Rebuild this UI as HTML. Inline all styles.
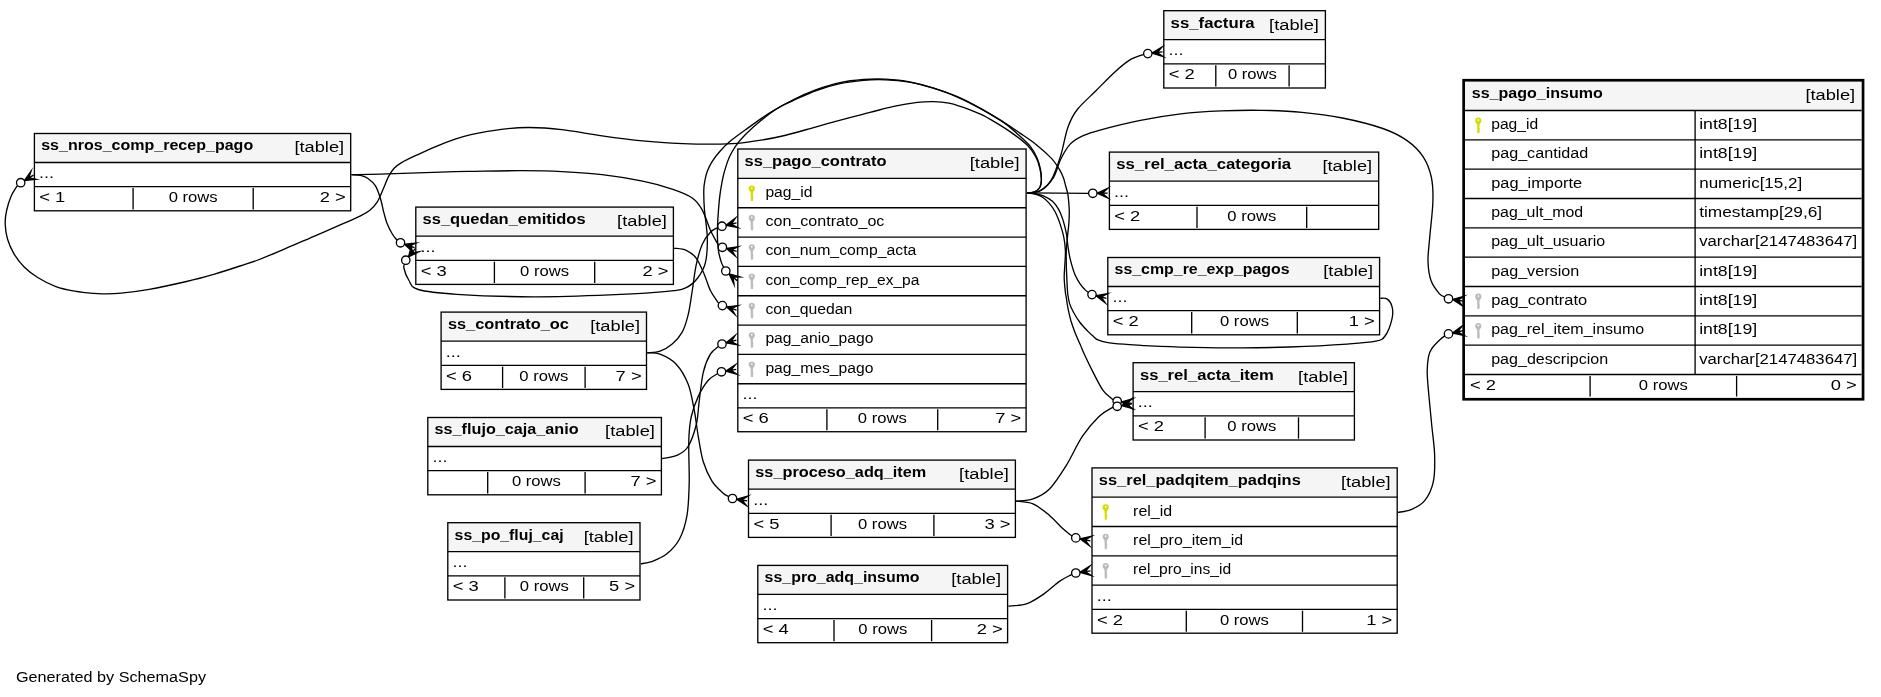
<!DOCTYPE html>
<html><head><meta charset="utf-8"><title>ss_pago_insumo</title>
<style>
html,body{margin:0;padding:0;background:#fff;}
body{width:1881px;height:697px;overflow:hidden;font-family:"Liberation Sans",sans-serif;}
svg{display:block;will-change:transform;}
text{font-family:"Liberation Sans",sans-serif;font-size:15.4px;fill:#000;stroke:none;}
text.b{font-weight:bold;}
</style></head><body>
<svg width="1881" height="697" viewBox="0 0 1881 697">
<g fill="none" stroke="#000" stroke-width="1.33">
<path d="M17.2,185.9 C16.2,187.6 13.0,191.9 11.2,196.1 C9.4,200.3 7.5,206.3 6.5,211.0 C5.5,215.7 5.0,219.4 5.2,224.1 C5.4,228.8 6.0,234.0 7.5,239.0 C9.0,244.0 11.2,249.2 14.0,253.9 C16.8,258.6 20.3,263.1 24.2,267.0 C28.1,270.9 32.0,273.9 37.3,277.2 C42.6,280.5 49.7,284.3 55.9,286.6 C62.1,288.9 68.4,290.1 74.6,291.2 C80.8,292.3 88.2,293.0 93.2,293.4 C98.2,293.8 99.7,293.9 104.4,293.8 C109.1,293.8 113.7,293.9 121.2,293.1 C128.7,292.4 138.3,291.2 149.2,289.3 C160.1,287.4 175.6,284.0 186.5,281.5 C197.4,279.0 205.6,276.7 214.5,274.1 C223.4,271.5 232.8,268.4 240.0,266.0 C247.2,263.6 250.3,262.9 258.0,260.0 C265.6,257.1 276.6,252.3 285.9,248.4 C295.2,244.5 304.6,240.3 313.9,236.3 C323.2,232.3 334.1,227.6 341.9,224.2 C349.7,220.8 355.8,218.1 360.5,215.8 C365.2,213.5 367.1,212.5 369.9,210.2 C372.7,207.9 375.1,205.2 377.3,201.8 C379.5,198.4 381.0,193.9 382.9,189.7 C384.8,185.5 386.6,180.2 388.5,176.6 C390.4,173.0 391.9,170.5 394.1,168.2 C396.3,165.9 397.9,164.8 401.6,162.6 C405.3,160.4 410.9,157.8 416.5,155.2 C422.1,152.6 428.9,149.4 435.1,146.8 C441.3,144.2 447.8,141.7 453.8,139.7 C459.8,137.7 463.0,136.4 470.9,134.7 C478.8,133.0 491.4,130.5 501.2,129.3 C511.0,128.1 519.4,127.4 529.5,127.5 C539.6,127.6 549.7,128.3 561.8,129.7 C573.9,131.1 588.7,134.0 602.2,135.8 C615.7,137.7 629.1,139.5 642.6,140.8 C656.1,142.1 671.1,143.0 683.0,143.6 C694.9,144.2 704.6,144.2 713.7,144.2 C722.8,144.2 729.5,144.1 737.4,143.4 C745.3,142.7 753.1,141.5 761.0,140.2 C768.9,138.9 775.5,137.7 784.7,135.5 C793.9,133.3 805.8,129.7 816.3,126.8 C826.8,123.9 838.9,120.5 847.9,118.1 C856.9,115.7 862.4,114.4 870.0,112.4 C877.6,110.5 885.8,108.1 893.7,106.4 C901.6,104.7 910.8,103.2 917.4,102.4 C924.0,101.6 927.9,101.5 933.1,101.6 C938.4,101.7 943.6,102.0 948.9,103.1 C954.2,104.1 959.4,106.1 964.7,107.9 C970.0,109.8 975.2,111.7 980.5,114.2 C985.8,116.7 991.0,119.8 996.3,122.9 C1001.6,126.1 1006.8,129.3 1012.1,133.1 C1017.4,136.9 1024.0,141.9 1027.9,145.8 C1031.8,149.8 1033.7,153.1 1035.7,156.8 C1037.7,160.5 1038.8,164.0 1039.7,167.9 C1040.7,171.8 1041.4,176.7 1041.4,180.0 C1041.4,183.3 1041.0,185.5 1039.8,187.5 C1038.6,189.5 1036.1,191.1 1034.0,192.0 C1031.9,192.9 1028.2,192.8 1027.0,192.9"/>
<path d="M351.4,174.7 C352.9,174.8 357.7,174.7 360.5,175.3 C363.3,175.9 365.5,176.7 368.0,178.5 C370.5,180.3 373.4,182.5 375.5,185.9 C377.6,189.3 379.2,194.6 380.6,199.0 C382.0,203.4 382.6,208.1 383.7,212.1 C384.8,216.1 385.6,219.6 387.0,223.2 C388.4,226.8 390.5,230.9 392.0,233.5 C393.5,236.1 395.1,237.9 396.0,239.0 C396.9,240.1 397.1,240.0 397.3,240.2"/>
<path d="M351.4,174.7 C356.2,174.6 365.1,174.6 380.0,174.2 C394.9,173.8 425.6,172.6 440.6,172.1 C455.6,171.6 456.5,171.6 470.0,171.4 C483.5,171.2 506.1,170.6 521.4,170.7 C536.7,170.8 548.3,171.0 561.8,171.7 C575.3,172.4 588.7,173.1 602.2,174.7 C615.7,176.3 630.8,178.8 642.6,181.2 C654.4,183.6 664.6,186.5 672.9,189.3 C681.2,192.1 687.4,194.5 692.3,198.0 C697.2,201.5 699.3,204.7 702.3,210.1 C705.3,215.5 707.9,224.7 710.4,230.2 C712.9,235.7 716.0,240.8 717.4,243.3 C718.8,245.9 718.4,245.1 718.6,245.5"/>
<path d="M404.8,264.0 C404.6,264.7 403.2,265.3 403.9,268.0 C404.5,270.7 406.3,276.4 408.7,280.0 C411.1,283.6 410.3,287.1 418.3,289.5 C426.3,291.9 437.5,293.1 456.6,294.3 C475.7,295.5 507.6,296.7 533.1,296.8 C558.6,296.9 587.4,295.8 609.7,294.9 C632.0,294.0 654.4,292.6 667.1,291.4 C679.9,290.2 681.1,289.8 686.2,287.6 C691.3,285.4 694.5,282.1 697.7,278.0 C700.9,273.9 703.8,269.4 705.4,262.7 C707.0,256.0 707.5,246.7 707.3,237.8 C707.1,228.9 705.0,217.1 704.4,209.1 C703.8,201.1 703.7,194.8 703.8,190.0 C703.9,185.2 704.4,183.2 705.0,180.0 C705.6,176.8 706.2,174.1 707.4,171.0 C708.6,167.9 710.0,164.9 712.1,161.6 C714.2,158.3 717.1,154.6 720.0,151.3 C722.9,148.0 725.3,145.4 729.5,141.8 C733.7,138.2 738.6,134.7 745.2,130.0 C751.8,125.3 761.0,118.4 768.9,113.4 C776.8,108.4 784.7,104.0 792.6,100.0 C800.5,96.0 808.4,92.6 816.3,89.7 C824.2,86.8 832.1,84.3 840.0,82.6 C847.9,80.9 856.0,80.1 863.6,79.5 C871.2,78.9 878.1,78.8 885.8,79.2 C893.4,79.6 901.6,80.3 909.5,81.8 C917.4,83.3 925.2,85.7 933.1,88.2 C941.0,90.7 948.9,93.4 956.8,96.8 C964.7,100.2 972.6,104.3 980.5,108.7 C988.4,113.1 997.6,118.3 1004.2,122.9 C1010.8,127.5 1015.5,132.2 1020.0,136.3 C1024.5,140.4 1028.1,143.6 1031.0,147.3 C1033.9,151.0 1035.7,154.7 1037.3,158.4 C1038.9,162.1 1039.8,165.8 1040.5,169.4 C1041.2,173.0 1041.5,177.0 1041.4,180.0 C1041.3,183.0 1041.0,185.5 1039.8,187.5 C1038.6,189.5 1036.1,191.1 1034.0,192.0 C1031.9,192.9 1028.2,192.8 1027.0,192.9"/>
<path d="M674.1,248.1 C676.1,248.5 682.5,248.6 686.2,250.3 C689.9,252.0 693.3,254.3 696.3,258.3 C699.3,262.3 701.9,269.0 704.3,274.4 C706.6,279.8 708.2,286.0 710.4,290.5 C712.6,295.0 716.0,299.5 717.4,301.6 C718.8,303.7 718.7,303.0 719.0,303.3"/>
<path d="M1380.3,298.2 C1381.5,298.4 1385.3,297.7 1387.3,299.1 C1389.3,300.5 1391.3,303.6 1392.1,306.8 C1392.9,310.0 1393.2,313.5 1392.1,318.3 C1391.0,323.1 1388.1,331.7 1385.4,335.5 C1382.7,339.3 1382.2,339.8 1375.8,341.2 C1369.4,342.6 1361.4,343.1 1347.1,344.1 C1332.8,345.1 1307.2,346.4 1289.7,347.0 C1272.2,347.6 1257.8,347.8 1241.8,347.9 C1225.8,348.0 1208.5,347.7 1194.0,347.4 C1179.5,347.1 1163.8,346.5 1155.0,346.2 C1146.2,345.9 1146.3,345.6 1141.1,345.3 C1135.9,345.0 1129.7,344.7 1123.9,344.2 C1118.2,343.7 1110.9,343.0 1106.6,342.3 C1102.3,341.6 1100.2,340.8 1098.0,339.9 C1095.8,339.0 1095.4,338.2 1093.7,336.7 C1092.0,335.2 1090.0,333.5 1087.7,331.1 C1085.4,328.7 1082.4,325.6 1080.0,322.5 C1077.6,319.4 1075.2,315.3 1073.5,312.2 C1071.8,309.1 1070.5,306.5 1069.6,303.6 C1068.7,300.7 1068.3,297.6 1067.9,295.0 C1067.5,292.4 1067.5,290.9 1067.3,288.0 C1067.1,285.1 1067.0,281.9 1066.8,277.9 C1066.6,273.9 1066.4,268.7 1066.3,264.1 C1066.2,259.5 1066.1,255.0 1066.3,250.4 C1066.5,245.8 1067.1,241.2 1067.5,236.6 C1067.9,232.0 1068.6,227.4 1068.9,222.8 C1069.2,218.2 1069.4,213.7 1069.2,209.1 C1069.0,204.5 1068.6,199.3 1068.0,195.3 C1067.4,191.3 1066.2,187.9 1065.4,185.0 C1064.7,182.1 1064.5,180.6 1063.5,178.0 C1062.5,175.4 1061.4,172.7 1059.4,169.4 C1057.4,166.1 1055.5,162.6 1051.5,158.4 C1047.5,154.2 1041.0,148.4 1035.7,144.2 C1030.5,140.0 1025.2,136.7 1020.0,133.1 C1014.8,129.5 1010.8,126.6 1004.2,122.5 C997.6,118.4 988.4,112.6 980.5,108.3 C972.6,104.0 964.7,99.8 956.8,96.4 C948.9,93.0 941.0,90.2 933.1,87.8 C925.2,85.4 917.4,83.5 909.5,82.2 C901.6,80.9 893.4,80.1 885.8,79.8 C878.1,79.5 871.2,79.6 863.6,80.3 C856.0,81.0 847.9,82.0 840.0,83.7 C832.1,85.4 824.2,87.7 816.3,90.5 C808.4,93.3 799.2,97.8 792.6,100.8 C786.0,103.8 782.1,105.4 776.8,108.7 C771.5,112.0 766.3,116.2 761.0,120.5 C755.7,124.8 749.4,130.5 745.2,134.7 C741.0,138.9 738.4,142.1 735.8,145.8 C733.2,149.5 731.2,153.1 729.5,156.8 C727.8,160.5 726.7,164.0 725.5,167.9 C724.3,171.8 723.4,174.8 722.4,180.0 C721.4,185.2 720.2,191.0 719.4,199.4 C718.6,207.8 717.6,221.7 717.4,230.2 C717.2,238.7 717.7,244.9 718.4,250.3 C719.1,255.7 720.5,259.6 721.4,262.4 C722.3,265.2 723.2,266.2 723.6,267.0"/>
<path d="M647.2,352.9 C649.4,352.6 655.9,352.7 660.1,351.2 C664.3,349.7 668.5,347.3 672.2,344.1 C675.9,340.9 679.5,337.0 682.2,332.1 C684.9,327.2 686.5,321.5 688.2,314.6 C689.9,307.7 690.9,298.9 692.3,290.5 C693.6,282.1 694.6,272.1 696.3,264.4 C698.0,256.7 699.9,249.7 702.3,244.3 C704.6,238.9 707.8,235.0 710.4,232.2 C713.0,229.4 716.7,228.3 718.0,227.5"/>
<path d="M647.2,352.9 C649.4,353.1 655.3,352.3 660.1,354.2 C664.9,356.1 671.5,359.2 676.2,364.2 C680.9,369.2 685.2,376.6 688.2,384.3 C691.2,392.0 692.6,401.8 694.3,410.5 C696.0,419.2 696.8,428.1 698.3,436.6 C699.8,445.1 701.0,454.1 703.2,461.5 C705.5,468.9 708.6,475.7 711.8,480.9 C715.0,486.1 719.8,490.1 722.6,492.7 C725.4,495.3 727.7,496.0 728.7,496.6"/>
<path d="M662.1,458.7 C664.6,458.1 673.1,457.1 677.4,455.1 C681.7,453.1 685.0,451.6 688.1,446.5 C691.2,441.4 694.4,432.2 696.3,424.5 C698.2,416.8 698.1,409.1 699.3,400.4 C700.5,391.7 701.4,380.0 703.3,372.3 C705.1,364.6 707.8,358.5 710.4,354.2 C713.0,349.9 717.2,347.6 718.6,346.3"/>
<path d="M640.8,563.8 C642.6,563.4 647.2,563.2 651.5,561.6 C655.8,560.0 661.9,557.9 666.6,554.1 C671.3,550.3 676.1,545.5 679.5,539.0 C682.9,532.5 685.4,524.6 687.0,515.3 C688.6,506.0 688.9,495.4 689.2,483.0 C689.5,470.6 688.4,451.7 688.8,440.6 C689.1,429.5 689.7,423.9 691.3,416.5 C692.9,409.1 695.5,402.4 698.3,396.4 C701.1,390.4 705.0,384.1 708.3,380.3 C711.5,376.5 716.2,374.6 717.8,373.5"/>
<path d="M1016.1,501.2 C1018.9,500.8 1027.4,500.9 1033.0,498.9 C1038.6,496.9 1044.0,494.5 1049.5,489.0 C1055.0,483.5 1060.5,474.7 1066.0,465.9 C1071.5,457.1 1077.0,444.4 1082.5,436.2 C1088.0,427.9 1094.0,421.2 1099.0,416.4 C1104.0,411.6 1109.8,409.1 1112.2,407.6 C1114.6,406.1 1113.0,407.3 1113.2,407.2"/>
<path d="M1016.1,501.2 C1018.9,501.6 1027.4,501.5 1033.0,503.9 C1038.6,506.3 1044.5,511.3 1049.5,515.4 C1054.5,519.5 1059.1,525.3 1062.7,528.6 C1066.3,531.9 1069.4,534.0 1071.0,535.2 C1072.6,536.4 1072.0,535.9 1072.2,536.0"/>
<path d="M1008.3,606.2 C1011.3,605.8 1020.6,605.8 1026.4,603.9 C1032.2,602.0 1037.4,598.4 1042.9,594.6 C1048.4,590.9 1054.7,584.7 1059.4,581.4 C1064.1,578.1 1068.9,576.0 1071.0,574.8 C1073.1,573.6 1071.8,574.4 1072.0,574.3"/>
<path d="M1397.9,512.4 C1400.1,511.9 1406.5,511.5 1410.9,509.6 C1415.3,507.7 1420.8,505.5 1424.5,500.9 C1428.2,496.3 1431.6,489.5 1433.3,481.8 C1435.0,474.1 1434.9,464.5 1434.6,454.5 C1434.3,444.5 1432.6,435.0 1431.4,421.8 C1430.2,408.6 1427.8,386.4 1427.3,375.5 C1426.8,364.6 1427.8,361.0 1428.6,356.4 C1429.4,351.8 1430.2,350.9 1432.2,348.0 C1434.2,345.1 1438.6,341.0 1440.7,339.0 C1442.8,337.0 1444.2,336.5 1444.9,336.0"/>
<path d="M1027.0,192.9 C1029.2,192.5 1035.9,192.7 1040.0,190.5 C1044.1,188.3 1048.0,185.4 1051.5,179.5 C1055.0,173.6 1058.0,164.1 1060.8,155.3 C1063.5,146.6 1065.2,134.6 1068.0,127.0 C1070.8,119.4 1072.6,115.5 1077.3,109.5 C1082.0,103.5 1089.7,97.0 1095.9,90.8 C1102.1,84.6 1109.0,77.3 1114.6,72.2 C1120.2,67.1 1124.7,63.1 1129.5,60.1 C1134.3,57.1 1141.3,55.4 1143.7,54.4"/>
<path d="M1027.0,192.9 C1037.3,193.0 1078.4,193.2 1088.7,193.3"/>
<path d="M1027.0,192.9 C1029.3,192.5 1036.6,193.1 1041.0,190.5 C1045.4,187.9 1050.1,182.8 1053.4,177.6 C1056.7,172.3 1058.0,164.6 1060.8,159.0 C1063.6,153.4 1066.5,148.0 1070.2,144.1 C1073.9,140.2 1078.2,138.0 1083.2,135.7 C1088.2,133.4 1090.5,132.6 1100.0,130.1 C1109.5,127.5 1126.9,123.1 1140.4,120.4 C1153.9,117.7 1167.3,115.5 1180.8,113.9 C1194.3,112.3 1207.7,111.5 1221.2,110.9 C1234.7,110.3 1248.1,110.1 1261.6,110.3 C1275.1,110.5 1288.5,111.0 1302.0,112.3 C1315.5,113.6 1328.9,115.3 1342.4,118.0 C1355.9,120.7 1372.0,124.7 1382.8,128.5 C1393.6,132.3 1400.4,135.9 1407.1,140.6 C1413.8,145.3 1419.2,150.7 1423.2,156.8 C1427.2,162.9 1429.7,169.6 1431.3,177.0 C1432.9,184.4 1433.2,191.3 1432.9,201.2 C1432.7,211.1 1430.6,226.6 1429.8,236.6 C1429.0,246.6 1427.8,253.7 1428.0,261.0 C1428.2,268.3 1429.1,275.0 1431.0,280.5 C1432.9,286.0 1437.2,291.1 1439.5,293.9 C1441.8,296.6 1443.9,296.5 1444.8,297.0"/>
<path d="M1027.0,192.9 C1028.4,193.0 1032.5,193.1 1035.3,193.6 C1038.1,194.1 1041.0,194.9 1043.9,196.2 C1046.8,197.5 1050.1,199.2 1052.5,201.3 C1054.9,203.5 1056.8,206.1 1058.5,209.1 C1060.2,212.1 1061.5,215.4 1062.8,219.4 C1064.1,223.4 1065.4,228.6 1066.3,233.2 C1067.2,237.8 1067.3,242.3 1068.0,246.9 C1068.7,251.5 1069.4,256.1 1070.6,260.7 C1071.8,265.3 1073.3,270.6 1074.9,274.5 C1076.5,278.4 1078.4,281.3 1080.1,283.9 C1081.8,286.5 1083.8,288.4 1085.2,289.9 C1086.6,291.3 1088.1,292.2 1088.7,292.6"/>
<path d="M1027.0,192.9 C1028.3,193.1 1032.5,193.3 1035.0,194.0 C1037.5,194.7 1039.9,195.5 1042.2,197.0 C1044.5,198.5 1046.9,200.7 1049.1,203.1 C1051.2,205.5 1053.2,208.1 1055.1,211.7 C1057.0,215.3 1058.9,220.4 1060.3,224.6 C1061.7,228.8 1062.8,232.3 1063.7,236.6 C1064.6,240.9 1065.2,245.8 1065.4,250.4 C1065.6,255.0 1065.1,259.5 1064.9,264.1 C1064.7,268.7 1064.1,273.3 1064.2,277.9 C1064.3,282.5 1065.0,288.5 1065.3,291.7 C1065.6,294.9 1065.8,294.3 1066.2,297.0 C1066.6,299.7 1067.1,303.9 1067.9,307.9 C1068.7,311.9 1069.8,316.8 1070.9,320.8 C1072.1,324.8 1073.3,328.1 1074.8,332.0 C1076.3,335.9 1078.3,340.3 1080.0,344.1 C1081.7,347.9 1082.4,350.0 1084.7,355.0 C1087.0,360.0 1090.8,367.9 1093.9,373.9 C1097.0,379.8 1100.2,386.6 1103.2,390.7 C1106.2,394.8 1109.9,397.0 1111.6,398.5 C1113.3,400.0 1113.3,399.4 1113.6,399.6"/>
</g>
<g stroke="#000" fill="none">
<rect x="34.40" y="133.50" width="316.30" height="77.30" fill="#fff" stroke="none"/>
<rect x="34.40" y="133.50" width="316.30" height="29.00" fill="#f5f5f5" stroke="none"/>
<line x1="34.40" y1="162.50" x2="350.70" y2="162.50" stroke-width="1.33"/>
<line x1="34.40" y1="186.70" x2="350.70" y2="186.70" stroke-width="1.33"/>
<rect x="34.40" y="133.50" width="316.30" height="77.30" fill="none" stroke="#000" stroke-width="1.33"/>
<text class="b" x="41.20" y="150" textLength="212.00" lengthAdjust="spacingAndGlyphs">ss_nros_comp_recep_pago</text>
<text class="r" x="344.20" y="152" text-anchor="end" textLength="49.80" lengthAdjust="spacingAndGlyphs">[table]</text>
<text class="r" x="39.10" y="178" textLength="15.00" lengthAdjust="spacingAndGlyphs">...</text>
<line x1="133.10" y1="188.10" x2="133.10" y2="209.40" stroke-width="1.33"/>
<line x1="253.20" y1="188.10" x2="253.20" y2="209.40" stroke-width="1.33"/>
<text class="r" x="39.30" y="202" textLength="26.00" lengthAdjust="spacingAndGlyphs">&lt; 1</text>
<text class="r" x="193.15" y="202" text-anchor="middle" textLength="49.00" lengthAdjust="spacingAndGlyphs">0 rows</text>
<text class="r" x="345.80" y="202" text-anchor="end" textLength="26.00" lengthAdjust="spacingAndGlyphs">2 &gt;</text>
<rect x="415.80" y="207.10" width="257.60" height="77.30" fill="#fff" stroke="none"/>
<rect x="415.80" y="207.10" width="257.60" height="29.00" fill="#f5f5f5" stroke="none"/>
<line x1="415.80" y1="236.10" x2="673.40" y2="236.10" stroke-width="1.33"/>
<line x1="415.80" y1="260.30" x2="673.40" y2="260.30" stroke-width="1.33"/>
<rect x="415.80" y="207.10" width="257.60" height="77.30" fill="none" stroke="#000" stroke-width="1.33"/>
<text class="b" x="422.60" y="224" textLength="163.00" lengthAdjust="spacingAndGlyphs">ss_quedan_emitidos</text>
<text class="r" x="666.90" y="226" text-anchor="end" textLength="49.80" lengthAdjust="spacingAndGlyphs">[table]</text>
<text class="r" x="420.50" y="252" textLength="15.00" lengthAdjust="spacingAndGlyphs">...</text>
<line x1="494.40" y1="261.70" x2="494.40" y2="283.00" stroke-width="1.33"/>
<line x1="594.70" y1="261.70" x2="594.70" y2="283.00" stroke-width="1.33"/>
<text class="r" x="420.70" y="276" textLength="26.00" lengthAdjust="spacingAndGlyphs">&lt; 3</text>
<text class="r" x="544.55" y="276" text-anchor="middle" textLength="49.00" lengthAdjust="spacingAndGlyphs">0 rows</text>
<text class="r" x="668.50" y="276" text-anchor="end" textLength="26.00" lengthAdjust="spacingAndGlyphs">2 &gt;</text>
<rect x="441.10" y="312.10" width="205.40" height="77.30" fill="#fff" stroke="none"/>
<rect x="441.10" y="312.10" width="205.40" height="29.00" fill="#f5f5f5" stroke="none"/>
<line x1="441.10" y1="341.10" x2="646.50" y2="341.10" stroke-width="1.33"/>
<line x1="441.10" y1="365.30" x2="646.50" y2="365.30" stroke-width="1.33"/>
<rect x="441.10" y="312.10" width="205.40" height="77.30" fill="none" stroke="#000" stroke-width="1.33"/>
<text class="b" x="447.90" y="329" textLength="121.00" lengthAdjust="spacingAndGlyphs">ss_contrato_oc</text>
<text class="r" x="640.00" y="331" text-anchor="end" textLength="49.80" lengthAdjust="spacingAndGlyphs">[table]</text>
<text class="r" x="445.80" y="357" textLength="15.00" lengthAdjust="spacingAndGlyphs">...</text>
<line x1="502.60" y1="366.70" x2="502.60" y2="388.00" stroke-width="1.33"/>
<line x1="585.10" y1="366.70" x2="585.10" y2="388.00" stroke-width="1.33"/>
<text class="r" x="446.00" y="381" textLength="26.00" lengthAdjust="spacingAndGlyphs">&lt; 6</text>
<text class="r" x="543.85" y="381" text-anchor="middle" textLength="49.00" lengthAdjust="spacingAndGlyphs">0 rows</text>
<text class="r" x="641.60" y="381" text-anchor="end" textLength="26.00" lengthAdjust="spacingAndGlyphs">7 &gt;</text>
<rect x="427.80" y="417.50" width="233.60" height="77.30" fill="#fff" stroke="none"/>
<rect x="427.80" y="417.50" width="233.60" height="29.00" fill="#f5f5f5" stroke="none"/>
<line x1="427.80" y1="446.50" x2="661.40" y2="446.50" stroke-width="1.33"/>
<line x1="427.80" y1="470.70" x2="661.40" y2="470.70" stroke-width="1.33"/>
<rect x="427.80" y="417.50" width="233.60" height="77.30" fill="none" stroke="#000" stroke-width="1.33"/>
<text class="b" x="434.60" y="434" textLength="144.00" lengthAdjust="spacingAndGlyphs">ss_flujo_caja_anio</text>
<text class="r" x="654.90" y="436" text-anchor="end" textLength="49.80" lengthAdjust="spacingAndGlyphs">[table]</text>
<text class="r" x="432.50" y="462" textLength="15.00" lengthAdjust="spacingAndGlyphs">...</text>
<line x1="487.70" y1="472.10" x2="487.70" y2="493.40" stroke-width="1.33"/>
<line x1="585.10" y1="472.10" x2="585.10" y2="493.40" stroke-width="1.33"/>
<text class="r" x="536.40" y="486" text-anchor="middle" textLength="49.00" lengthAdjust="spacingAndGlyphs">0 rows</text>
<text class="r" x="656.50" y="486" text-anchor="end" textLength="26.00" lengthAdjust="spacingAndGlyphs">7 &gt;</text>
<rect x="447.80" y="522.70" width="192.20" height="77.30" fill="#fff" stroke="none"/>
<rect x="447.80" y="522.70" width="192.20" height="29.00" fill="#f5f5f5" stroke="none"/>
<line x1="447.80" y1="551.70" x2="640.00" y2="551.70" stroke-width="1.33"/>
<line x1="447.80" y1="575.90" x2="640.00" y2="575.90" stroke-width="1.33"/>
<rect x="447.80" y="522.70" width="192.20" height="77.30" fill="none" stroke="#000" stroke-width="1.33"/>
<text class="b" x="454.60" y="540" textLength="109.00" lengthAdjust="spacingAndGlyphs">ss_po_fluj_caj</text>
<text class="r" x="633.50" y="542" text-anchor="end" textLength="49.80" lengthAdjust="spacingAndGlyphs">[table]</text>
<text class="r" x="452.50" y="567" textLength="15.00" lengthAdjust="spacingAndGlyphs">...</text>
<line x1="504.90" y1="577.30" x2="504.90" y2="598.60" stroke-width="1.33"/>
<line x1="583.70" y1="577.30" x2="583.70" y2="598.60" stroke-width="1.33"/>
<text class="r" x="452.70" y="591" textLength="26.00" lengthAdjust="spacingAndGlyphs">&lt; 3</text>
<text class="r" x="544.30" y="591" text-anchor="middle" textLength="49.00" lengthAdjust="spacingAndGlyphs">0 rows</text>
<text class="r" x="635.10" y="591" text-anchor="end" textLength="26.00" lengthAdjust="spacingAndGlyphs">5 &gt;</text>
<rect x="748.50" y="460.10" width="266.90" height="77.30" fill="#fff" stroke="none"/>
<rect x="748.50" y="460.10" width="266.90" height="29.00" fill="#f5f5f5" stroke="none"/>
<line x1="748.50" y1="489.10" x2="1015.40" y2="489.10" stroke-width="1.33"/>
<line x1="748.50" y1="513.30" x2="1015.40" y2="513.30" stroke-width="1.33"/>
<rect x="748.50" y="460.10" width="266.90" height="77.30" fill="none" stroke="#000" stroke-width="1.33"/>
<text class="b" x="755.30" y="477" textLength="171.00" lengthAdjust="spacingAndGlyphs">ss_proceso_adq_item</text>
<text class="r" x="1008.90" y="479" text-anchor="end" textLength="49.80" lengthAdjust="spacingAndGlyphs">[table]</text>
<text class="r" x="753.20" y="505" textLength="15.00" lengthAdjust="spacingAndGlyphs">...</text>
<line x1="831.10" y1="514.70" x2="831.10" y2="536.00" stroke-width="1.33"/>
<line x1="933.90" y1="514.70" x2="933.90" y2="536.00" stroke-width="1.33"/>
<text class="r" x="753.40" y="529" textLength="26.00" lengthAdjust="spacingAndGlyphs">&lt; 5</text>
<text class="r" x="882.50" y="529" text-anchor="middle" textLength="49.00" lengthAdjust="spacingAndGlyphs">0 rows</text>
<text class="r" x="1010.50" y="529" text-anchor="end" textLength="26.00" lengthAdjust="spacingAndGlyphs">3 &gt;</text>
<rect x="757.80" y="565.40" width="249.80" height="77.30" fill="#fff" stroke="none"/>
<rect x="757.80" y="565.40" width="249.80" height="29.00" fill="#f5f5f5" stroke="none"/>
<line x1="757.80" y1="594.40" x2="1007.60" y2="594.40" stroke-width="1.33"/>
<line x1="757.80" y1="618.60" x2="1007.60" y2="618.60" stroke-width="1.33"/>
<rect x="757.80" y="565.40" width="249.80" height="77.30" fill="none" stroke="#000" stroke-width="1.33"/>
<text class="b" x="764.60" y="582" textLength="155.00" lengthAdjust="spacingAndGlyphs">ss_pro_adq_insumo</text>
<text class="r" x="1001.10" y="584" text-anchor="end" textLength="49.80" lengthAdjust="spacingAndGlyphs">[table]</text>
<text class="r" x="762.50" y="610" textLength="15.00" lengthAdjust="spacingAndGlyphs">...</text>
<line x1="834.00" y1="620.00" x2="834.00" y2="641.30" stroke-width="1.33"/>
<line x1="931.60" y1="620.00" x2="931.60" y2="641.30" stroke-width="1.33"/>
<text class="r" x="762.70" y="634" textLength="26.00" lengthAdjust="spacingAndGlyphs">&lt; 4</text>
<text class="r" x="882.80" y="634" text-anchor="middle" textLength="49.00" lengthAdjust="spacingAndGlyphs">0 rows</text>
<text class="r" x="1002.70" y="634" text-anchor="end" textLength="26.00" lengthAdjust="spacingAndGlyphs">2 &gt;</text>
<rect x="1163.80" y="10.70" width="161.60" height="77.30" fill="#fff" stroke="none"/>
<rect x="1163.80" y="10.70" width="161.60" height="29.00" fill="#f5f5f5" stroke="none"/>
<line x1="1163.80" y1="39.70" x2="1325.40" y2="39.70" stroke-width="1.33"/>
<line x1="1163.80" y1="63.90" x2="1325.40" y2="63.90" stroke-width="1.33"/>
<rect x="1163.80" y="10.70" width="161.60" height="77.30" fill="none" stroke="#000" stroke-width="1.33"/>
<text class="b" x="1170.60" y="28" textLength="84.00" lengthAdjust="spacingAndGlyphs">ss_factura</text>
<text class="r" x="1318.90" y="30" text-anchor="end" textLength="49.80" lengthAdjust="spacingAndGlyphs">[table]</text>
<text class="r" x="1168.50" y="55" textLength="15.00" lengthAdjust="spacingAndGlyphs">...</text>
<line x1="1215.80" y1="65.30" x2="1215.80" y2="86.60" stroke-width="1.33"/>
<line x1="1289.10" y1="65.30" x2="1289.10" y2="86.60" stroke-width="1.33"/>
<text class="r" x="1168.70" y="79" textLength="26.00" lengthAdjust="spacingAndGlyphs">&lt; 2</text>
<text class="r" x="1252.45" y="79" text-anchor="middle" textLength="49.00" lengthAdjust="spacingAndGlyphs">0 rows</text>
<rect x="1109.40" y="152.10" width="269.30" height="77.30" fill="#fff" stroke="none"/>
<rect x="1109.40" y="152.10" width="269.30" height="29.00" fill="#f5f5f5" stroke="none"/>
<line x1="1109.40" y1="181.10" x2="1378.70" y2="181.10" stroke-width="1.33"/>
<line x1="1109.40" y1="205.30" x2="1378.70" y2="205.30" stroke-width="1.33"/>
<rect x="1109.40" y="152.10" width="269.30" height="77.30" fill="none" stroke="#000" stroke-width="1.33"/>
<text class="b" x="1116.20" y="169" textLength="175.00" lengthAdjust="spacingAndGlyphs">ss_rel_acta_categoria</text>
<text class="r" x="1372.20" y="171" text-anchor="end" textLength="49.80" lengthAdjust="spacingAndGlyphs">[table]</text>
<text class="r" x="1114.10" y="197" textLength="15.00" lengthAdjust="spacingAndGlyphs">...</text>
<line x1="1197.00" y1="206.70" x2="1197.00" y2="228.00" stroke-width="1.33"/>
<line x1="1306.70" y1="206.70" x2="1306.70" y2="228.00" stroke-width="1.33"/>
<text class="r" x="1114.30" y="221" textLength="26.00" lengthAdjust="spacingAndGlyphs">&lt; 2</text>
<text class="r" x="1251.85" y="221" text-anchor="middle" textLength="49.00" lengthAdjust="spacingAndGlyphs">0 rows</text>
<rect x="1107.80" y="257.50" width="271.80" height="77.30" fill="#fff" stroke="none"/>
<rect x="1107.80" y="257.50" width="271.80" height="29.00" fill="#f5f5f5" stroke="none"/>
<line x1="1107.80" y1="286.50" x2="1379.60" y2="286.50" stroke-width="1.33"/>
<line x1="1107.80" y1="310.70" x2="1379.60" y2="310.70" stroke-width="1.33"/>
<rect x="1107.80" y="257.50" width="271.80" height="77.30" fill="none" stroke="#000" stroke-width="1.33"/>
<text class="b" x="1114.60" y="274" textLength="175.00" lengthAdjust="spacingAndGlyphs">ss_cmp_re_exp_pagos</text>
<text class="r" x="1373.10" y="276" text-anchor="end" textLength="49.80" lengthAdjust="spacingAndGlyphs">[table]</text>
<text class="r" x="1112.50" y="302" textLength="15.00" lengthAdjust="spacingAndGlyphs">...</text>
<line x1="1191.70" y1="312.10" x2="1191.70" y2="333.40" stroke-width="1.33"/>
<line x1="1297.30" y1="312.10" x2="1297.30" y2="333.40" stroke-width="1.33"/>
<text class="r" x="1112.70" y="326" textLength="26.00" lengthAdjust="spacingAndGlyphs">&lt; 2</text>
<text class="r" x="1244.50" y="326" text-anchor="middle" textLength="49.00" lengthAdjust="spacingAndGlyphs">0 rows</text>
<text class="r" x="1374.70" y="326" text-anchor="end" textLength="26.00" lengthAdjust="spacingAndGlyphs">1 &gt;</text>
<rect x="1133.10" y="362.70" width="221.30" height="77.30" fill="#fff" stroke="none"/>
<rect x="1133.10" y="362.70" width="221.30" height="29.00" fill="#f5f5f5" stroke="none"/>
<line x1="1133.10" y1="391.70" x2="1354.40" y2="391.70" stroke-width="1.33"/>
<line x1="1133.10" y1="415.90" x2="1354.40" y2="415.90" stroke-width="1.33"/>
<rect x="1133.10" y="362.70" width="221.30" height="77.30" fill="none" stroke="#000" stroke-width="1.33"/>
<text class="b" x="1139.90" y="380" textLength="134.00" lengthAdjust="spacingAndGlyphs">ss_rel_acta_item</text>
<text class="r" x="1347.90" y="382" text-anchor="end" textLength="49.80" lengthAdjust="spacingAndGlyphs">[table]</text>
<text class="r" x="1137.80" y="407" textLength="15.00" lengthAdjust="spacingAndGlyphs">...</text>
<line x1="1205.10" y1="417.30" x2="1205.10" y2="438.60" stroke-width="1.33"/>
<line x1="1298.50" y1="417.30" x2="1298.50" y2="438.60" stroke-width="1.33"/>
<text class="r" x="1138.00" y="431" textLength="26.00" lengthAdjust="spacingAndGlyphs">&lt; 2</text>
<text class="r" x="1251.80" y="431" text-anchor="middle" textLength="49.00" lengthAdjust="spacingAndGlyphs">0 rows</text>
<rect x="737.80" y="149.00" width="288.30" height="282.73" fill="#fff" stroke="none"/>
<rect x="737.80" y="149.00" width="288.30" height="29.40" fill="#f5f5f5" stroke="none"/>
<line x1="737.80" y1="178.40" x2="1026.10" y2="178.40" stroke-width="1.33"/>
<line x1="737.80" y1="207.73" x2="1026.10" y2="207.73" stroke-width="1.33"/>
<line x1="737.80" y1="237.07" x2="1026.10" y2="237.07" stroke-width="1.33"/>
<line x1="737.80" y1="266.40" x2="1026.10" y2="266.40" stroke-width="1.33"/>
<line x1="737.80" y1="295.73" x2="1026.10" y2="295.73" stroke-width="1.33"/>
<line x1="737.80" y1="325.06" x2="1026.10" y2="325.06" stroke-width="1.33"/>
<line x1="737.80" y1="354.40" x2="1026.10" y2="354.40" stroke-width="1.33"/>
<line x1="737.80" y1="383.73" x2="1026.10" y2="383.73" stroke-width="1.33"/>
<line x1="737.80" y1="407.83" x2="1026.10" y2="407.83" stroke-width="1.33"/>
<rect x="737.80" y="149.00" width="288.30" height="282.73" fill="none" stroke="#000" stroke-width="1.33"/>
<text class="b" x="744.60" y="166" textLength="142.00" lengthAdjust="spacingAndGlyphs">ss_pago_contrato</text>
<text class="r" x="1019.60" y="168" text-anchor="end" textLength="49.80" lengthAdjust="spacingAndGlyphs">[table]</text>
<g fill="#d5dc00" stroke="none"><circle cx="751.80" cy="188.60" r="3.1"/><path d="M749.90,190.80 L753.70,190.80 L752.95,192.80 L752.95,201.00 L750.85,201.00 L750.65,192.80 Z"/><rect x="752.70" y="196.20" width="0.8" height="1"/><rect x="752.70" y="198.20" width="0.8" height="1"/><circle cx="751.80" cy="188.00" r="0.85" fill="#fff"/></g>
<text class="r" x="765.40" y="197" textLength="47.00" lengthAdjust="spacingAndGlyphs">pag_id</text>
<g fill="#bbbbbb" stroke="none"><circle cx="751.80" cy="217.93" r="3.1"/><path d="M749.90,220.13 L753.70,220.13 L752.95,222.13 L752.95,230.33 L750.85,230.33 L750.65,222.13 Z"/><rect x="752.70" y="225.53" width="0.8" height="1"/><rect x="752.70" y="227.53" width="0.8" height="1"/><circle cx="751.80" cy="217.33" r="0.85" fill="#fff"/></g>
<text class="r" x="765.40" y="226" textLength="119.00" lengthAdjust="spacingAndGlyphs">con_contrato_oc</text>
<g fill="#bbbbbb" stroke="none"><circle cx="751.80" cy="247.27" r="3.1"/><path d="M749.90,249.47 L753.70,249.47 L752.95,251.47 L752.95,259.67 L750.85,259.67 L750.65,251.47 Z"/><rect x="752.70" y="254.87" width="0.8" height="1"/><rect x="752.70" y="256.87" width="0.8" height="1"/><circle cx="751.80" cy="246.67" r="0.85" fill="#fff"/></g>
<text class="r" x="765.40" y="255" textLength="151.00" lengthAdjust="spacingAndGlyphs">con_num_comp_acta</text>
<g fill="#bbbbbb" stroke="none"><circle cx="751.80" cy="276.60" r="3.1"/><path d="M749.90,278.80 L753.70,278.80 L752.95,280.80 L752.95,289.00 L750.85,289.00 L750.65,280.80 Z"/><rect x="752.70" y="284.20" width="0.8" height="1"/><rect x="752.70" y="286.20" width="0.8" height="1"/><circle cx="751.80" cy="276.00" r="0.85" fill="#fff"/></g>
<text class="r" x="765.40" y="285" textLength="154.00" lengthAdjust="spacingAndGlyphs">con_comp_rep_ex_pa</text>
<g fill="#bbbbbb" stroke="none"><circle cx="751.80" cy="305.93" r="3.1"/><path d="M749.90,308.13 L753.70,308.13 L752.95,310.13 L752.95,318.33 L750.85,318.33 L750.65,310.13 Z"/><rect x="752.70" y="313.53" width="0.8" height="1"/><rect x="752.70" y="315.53" width="0.8" height="1"/><circle cx="751.80" cy="305.33" r="0.85" fill="#fff"/></g>
<text class="r" x="765.40" y="314" textLength="87.00" lengthAdjust="spacingAndGlyphs">con_quedan</text>
<g fill="#bbbbbb" stroke="none"><circle cx="751.80" cy="335.26" r="3.1"/><path d="M749.90,337.46 L753.70,337.46 L752.95,339.46 L752.95,347.66 L750.85,347.66 L750.65,339.46 Z"/><rect x="752.70" y="342.87" width="0.8" height="1"/><rect x="752.70" y="344.87" width="0.8" height="1"/><circle cx="751.80" cy="334.66" r="0.85" fill="#fff"/></g>
<text class="r" x="765.40" y="343" textLength="108.00" lengthAdjust="spacingAndGlyphs">pag_anio_pago</text>
<g fill="#bbbbbb" stroke="none"><circle cx="751.80" cy="364.60" r="3.1"/><path d="M749.90,366.80 L753.70,366.80 L752.95,368.80 L752.95,377.00 L750.85,377.00 L750.65,368.80 Z"/><rect x="752.70" y="372.20" width="0.8" height="1"/><rect x="752.70" y="374.20" width="0.8" height="1"/><circle cx="751.80" cy="364.00" r="0.85" fill="#fff"/></g>
<text class="r" x="765.40" y="373" textLength="108.00" lengthAdjust="spacingAndGlyphs">pag_mes_pago</text>
<text class="r" x="742.50" y="399" textLength="15.00" lengthAdjust="spacingAndGlyphs">...</text>
<line x1="826.90" y1="409.23" x2="826.90" y2="430.33" stroke-width="1.33"/>
<line x1="937.70" y1="409.23" x2="937.70" y2="430.33" stroke-width="1.33"/>
<text class="r" x="742.70" y="423" textLength="26.00" lengthAdjust="spacingAndGlyphs">&lt; 6</text>
<text class="r" x="882.30" y="423" text-anchor="middle" textLength="49.00" lengthAdjust="spacingAndGlyphs">0 rows</text>
<text class="r" x="1021.20" y="423" text-anchor="end" textLength="26.00" lengthAdjust="spacingAndGlyphs">7 &gt;</text>
<rect x="1092.00" y="467.90" width="305.20" height="165.30" fill="#fff" stroke="none"/>
<rect x="1092.00" y="467.90" width="305.20" height="29.30" fill="#f5f5f5" stroke="none"/>
<line x1="1092.00" y1="497.20" x2="1397.20" y2="497.20" stroke-width="1.33"/>
<line x1="1092.00" y1="526.53" x2="1397.20" y2="526.53" stroke-width="1.33"/>
<line x1="1092.00" y1="555.87" x2="1397.20" y2="555.87" stroke-width="1.33"/>
<line x1="1092.00" y1="585.20" x2="1397.20" y2="585.20" stroke-width="1.33"/>
<line x1="1092.00" y1="609.30" x2="1397.20" y2="609.30" stroke-width="1.33"/>
<rect x="1092.00" y="467.90" width="305.20" height="165.30" fill="none" stroke="#000" stroke-width="1.33"/>
<text class="b" x="1098.80" y="485" textLength="202.00" lengthAdjust="spacingAndGlyphs">ss_rel_padqitem_padqins</text>
<text class="r" x="1390.70" y="487" text-anchor="end" textLength="49.80" lengthAdjust="spacingAndGlyphs">[table]</text>
<g fill="#d5dc00" stroke="none"><circle cx="1105.70" cy="507.40" r="3.1"/><path d="M1103.80,509.60 L1107.60,509.60 L1106.85,511.60 L1106.85,519.80 L1104.75,519.80 L1104.55,511.60 Z"/><rect x="1106.60" y="515.00" width="0.8" height="1"/><rect x="1106.60" y="517.00" width="0.8" height="1"/><circle cx="1105.70" cy="506.80" r="0.85" fill="#fff"/></g>
<text class="r" x="1133.10" y="516" textLength="39.00" lengthAdjust="spacingAndGlyphs">rel_id</text>
<g fill="#bbbbbb" stroke="none"><circle cx="1105.70" cy="536.73" r="3.1"/><path d="M1103.80,538.93 L1107.60,538.93 L1106.85,540.93 L1106.85,549.13 L1104.75,549.13 L1104.55,540.93 Z"/><rect x="1106.60" y="544.33" width="0.8" height="1"/><rect x="1106.60" y="546.33" width="0.8" height="1"/><circle cx="1105.70" cy="536.13" r="0.85" fill="#fff"/></g>
<text class="r" x="1133.10" y="545" textLength="110.00" lengthAdjust="spacingAndGlyphs">rel_pro_item_id</text>
<g fill="#bbbbbb" stroke="none"><circle cx="1105.70" cy="566.07" r="3.1"/><path d="M1103.80,568.27 L1107.60,568.27 L1106.85,570.27 L1106.85,578.47 L1104.75,578.47 L1104.55,570.27 Z"/><rect x="1106.60" y="573.67" width="0.8" height="1"/><rect x="1106.60" y="575.67" width="0.8" height="1"/><circle cx="1105.70" cy="565.47" r="0.85" fill="#fff"/></g>
<text class="r" x="1133.10" y="574" textLength="98.00" lengthAdjust="spacingAndGlyphs">rel_pro_ins_id</text>
<text class="r" x="1096.70" y="601" textLength="15.00" lengthAdjust="spacingAndGlyphs">...</text>
<line x1="1186.30" y1="610.70" x2="1186.30" y2="631.80" stroke-width="1.33"/>
<line x1="1302.50" y1="610.70" x2="1302.50" y2="631.80" stroke-width="1.33"/>
<text class="r" x="1096.90" y="625" textLength="26.00" lengthAdjust="spacingAndGlyphs">&lt; 2</text>
<text class="r" x="1244.40" y="625" text-anchor="middle" textLength="49.00" lengthAdjust="spacingAndGlyphs">0 rows</text>
<text class="r" x="1392.30" y="625" text-anchor="end" textLength="26.00" lengthAdjust="spacingAndGlyphs">1 &gt;</text>
<rect x="1465.00" y="81.60" width="396.70" height="316.30" fill="#fff" stroke="none"/>
<rect x="1465.00" y="81.60" width="396.70" height="28.90" fill="#f5f5f5" stroke="none"/>
<line x1="1465.00" y1="110.50" x2="1861.70" y2="110.50" stroke-width="1.33"/>
<line x1="1465.00" y1="139.83" x2="1861.70" y2="139.83" stroke-width="1.33"/>
<line x1="1465.00" y1="169.17" x2="1861.70" y2="169.17" stroke-width="1.33"/>
<line x1="1465.00" y1="198.50" x2="1861.70" y2="198.50" stroke-width="1.33"/>
<line x1="1465.00" y1="227.83" x2="1861.70" y2="227.83" stroke-width="1.33"/>
<line x1="1465.00" y1="257.16" x2="1861.70" y2="257.16" stroke-width="1.33"/>
<line x1="1465.00" y1="286.50" x2="1861.70" y2="286.50" stroke-width="1.33"/>
<line x1="1465.00" y1="315.83" x2="1861.70" y2="315.83" stroke-width="1.33"/>
<line x1="1465.00" y1="345.16" x2="1861.70" y2="345.16" stroke-width="1.33"/>
<line x1="1465.00" y1="374.50" x2="1861.70" y2="374.50" stroke-width="1.33"/>
<rect x="1463.65" y="80.25" width="399.40" height="319.00" fill="none" stroke="#000" stroke-width="2.7"/>
<text class="b" x="1471.80" y="98" textLength="131.00" lengthAdjust="spacingAndGlyphs">ss_pago_insumo</text>
<text class="r" x="1855.20" y="100" text-anchor="end" textLength="49.80" lengthAdjust="spacingAndGlyphs">[table]</text>
<g fill="#d5dc00" stroke="none"><circle cx="1478.30" cy="120.70" r="3.1"/><path d="M1476.40,122.90 L1480.20,122.90 L1479.45,124.90 L1479.45,133.10 L1477.35,133.10 L1477.15,124.90 Z"/><rect x="1479.20" y="128.30" width="0.8" height="1"/><rect x="1479.20" y="130.30" width="0.8" height="1"/><circle cx="1478.30" cy="120.10" r="0.85" fill="#fff"/></g>
<text class="r" x="1491.20" y="129" textLength="47.00" lengthAdjust="spacingAndGlyphs">pag_id</text>
<text class="r" x="1699.20" y="129" textLength="58.00" lengthAdjust="spacingAndGlyphs">int8[19]</text>
<text class="r" x="1491.20" y="158" textLength="97.00" lengthAdjust="spacingAndGlyphs">pag_cantidad</text>
<text class="r" x="1699.20" y="158" textLength="58.00" lengthAdjust="spacingAndGlyphs">int8[19]</text>
<text class="r" x="1491.20" y="188" textLength="91.00" lengthAdjust="spacingAndGlyphs">pag_importe</text>
<text class="r" x="1699.20" y="188" textLength="103.00" lengthAdjust="spacingAndGlyphs">numeric[15,2]</text>
<text class="r" x="1491.20" y="217" textLength="92.00" lengthAdjust="spacingAndGlyphs">pag_ult_mod</text>
<text class="r" x="1699.20" y="217" textLength="123.00" lengthAdjust="spacingAndGlyphs">timestamp[29,6]</text>
<text class="r" x="1491.20" y="246" textLength="114.00" lengthAdjust="spacingAndGlyphs">pag_ult_usuario</text>
<text class="r" x="1699.20" y="246" textLength="158.00" lengthAdjust="spacingAndGlyphs">varchar[2147483647]</text>
<text class="r" x="1491.20" y="276" textLength="88.00" lengthAdjust="spacingAndGlyphs">pag_version</text>
<text class="r" x="1699.20" y="276" textLength="58.00" lengthAdjust="spacingAndGlyphs">int8[19]</text>
<g fill="#bbbbbb" stroke="none"><circle cx="1478.30" cy="296.70" r="3.1"/><path d="M1476.40,298.90 L1480.20,298.90 L1479.45,300.90 L1479.45,309.10 L1477.35,309.10 L1477.15,300.90 Z"/><rect x="1479.20" y="304.30" width="0.8" height="1"/><rect x="1479.20" y="306.30" width="0.8" height="1"/><circle cx="1478.30" cy="296.10" r="0.85" fill="#fff"/></g>
<text class="r" x="1491.20" y="305" textLength="96.00" lengthAdjust="spacingAndGlyphs">pag_contrato</text>
<text class="r" x="1699.20" y="305" textLength="58.00" lengthAdjust="spacingAndGlyphs">int8[19]</text>
<g fill="#bbbbbb" stroke="none"><circle cx="1478.30" cy="326.03" r="3.1"/><path d="M1476.40,328.23 L1480.20,328.23 L1479.45,330.23 L1479.45,338.43 L1477.35,338.43 L1477.15,330.23 Z"/><rect x="1479.20" y="333.63" width="0.8" height="1"/><rect x="1479.20" y="335.63" width="0.8" height="1"/><circle cx="1478.30" cy="325.43" r="0.85" fill="#fff"/></g>
<text class="r" x="1491.20" y="334" textLength="153.00" lengthAdjust="spacingAndGlyphs">pag_rel_item_insumo</text>
<text class="r" x="1699.20" y="334" textLength="58.00" lengthAdjust="spacingAndGlyphs">int8[19]</text>
<text class="r" x="1491.20" y="364" textLength="117.00" lengthAdjust="spacingAndGlyphs">pag_descripcion</text>
<text class="r" x="1699.20" y="364" textLength="158.00" lengthAdjust="spacingAndGlyphs">varchar[2147483647]</text>
<line x1="1695.10" y1="110.50" x2="1695.10" y2="374.50" stroke-width="1.33"/>
<line x1="1590.10" y1="375.90" x2="1590.10" y2="396.50" stroke-width="1.33"/>
<line x1="1736.60" y1="375.90" x2="1736.60" y2="396.50" stroke-width="1.33"/>
<text class="r" x="1469.90" y="390" textLength="26.00" lengthAdjust="spacingAndGlyphs">&lt; 2</text>
<text class="r" x="1663.35" y="390" text-anchor="middle" textLength="49.00" lengthAdjust="spacingAndGlyphs">0 rows</text>
<text class="r" x="1856.80" y="390" text-anchor="end" textLength="26.00" lengthAdjust="spacingAndGlyphs">0 &gt;</text>
<text class="r" x="16.00" y="682" textLength="190.00" lengthAdjust="spacingAndGlyphs">Generated by SchemaSpy</text>
</g>
<g>
<path d="M24.32,180.57 L35.95,179.31 L28.92,177.87 L33.52,175.17 L28.92,177.87 L31.09,171.03 Z" fill="#000" stroke="#000" stroke-width="1.33" stroke-linejoin="miter" stroke-miterlimit="10"/>
<circle cx="20.70" cy="182.70" r="4.2" fill="#fff" stroke="#000" stroke-width="1.33"/>
<path d="M404.48,244.15 L413.03,252.13 L409.53,245.87 L414.58,247.59 L409.53,245.87 L416.12,243.04 Z" fill="#000" stroke="#000" stroke-width="1.33" stroke-linejoin="miter" stroke-miterlimit="10"/>
<circle cx="400.50" cy="242.80" r="4.2" fill="#fff" stroke="#000" stroke-width="1.33"/>
<path d="M408.46,256.95 L418.94,251.74 L411.84,252.83 L415.23,248.70 L411.84,252.83 L411.51,245.66 Z" fill="#000" stroke="#000" stroke-width="1.33" stroke-linejoin="miter" stroke-miterlimit="10"/>
<circle cx="405.80" cy="260.20" r="4.2" fill="#fff" stroke="#000" stroke-width="1.33"/>
<path d="M726.09,225.24 L737.57,227.48 L731.28,224.03 L736.48,222.81 L731.28,224.03 L735.38,218.14 Z" fill="#000" stroke="#000" stroke-width="1.33" stroke-linejoin="miter" stroke-miterlimit="10"/>
<circle cx="722.00" cy="226.20" r="4.2" fill="#fff" stroke="#000" stroke-width="1.33"/>
<path d="M726.43,248.48 L735.33,256.08 L731.55,249.97 L736.67,251.47 L731.55,249.97 L738.02,246.86 Z" fill="#000" stroke="#000" stroke-width="1.33" stroke-linejoin="miter" stroke-miterlimit="10"/>
<circle cx="722.40" cy="247.30" r="4.2" fill="#fff" stroke="#000" stroke-width="1.33"/>
<path d="M729.00,273.72 L734.02,284.29 L733.07,277.18 L737.13,280.63 L733.07,277.18 L740.24,276.97 Z" fill="#000" stroke="#000" stroke-width="1.33" stroke-linejoin="miter" stroke-miterlimit="10"/>
<circle cx="725.80" cy="271.00" r="4.2" fill="#fff" stroke="#000" stroke-width="1.33"/>
<path d="M726.40,306.87 L735.11,314.68 L731.49,308.49 L736.57,310.11 L731.49,308.49 L738.03,305.53 Z" fill="#000" stroke="#000" stroke-width="1.33" stroke-linejoin="miter" stroke-miterlimit="10"/>
<circle cx="722.40" cy="305.60" r="4.2" fill="#fff" stroke="#000" stroke-width="1.33"/>
<path d="M726.06,342.92 L737.60,344.82 L731.21,341.55 L736.37,340.18 L731.21,341.55 L735.14,335.54 Z" fill="#000" stroke="#000" stroke-width="1.33" stroke-linejoin="miter" stroke-miterlimit="10"/>
<circle cx="722.00" cy="344.00" r="4.2" fill="#fff" stroke="#000" stroke-width="1.33"/>
<path d="M725.65,371.14 L736.94,374.20 L730.92,370.30 L736.18,369.46 L730.92,370.30 L735.43,364.72 Z" fill="#000" stroke="#000" stroke-width="1.33" stroke-linejoin="miter" stroke-miterlimit="10"/>
<circle cx="721.50" cy="371.80" r="4.2" fill="#fff" stroke="#000" stroke-width="1.33"/>
<path d="M736.65,499.15 L746.45,505.54 L741.92,499.97 L747.19,500.80 L741.92,499.97 L747.93,496.05 Z" fill="#000" stroke="#000" stroke-width="1.33" stroke-linejoin="miter" stroke-miterlimit="10"/>
<circle cx="732.50" cy="498.50" r="4.2" fill="#fff" stroke="#000" stroke-width="1.33"/>
<path d="M1151.97,53.10 L1163.14,56.59 L1157.27,52.46 L1162.56,51.82 L1157.27,52.46 L1161.99,47.06 Z" fill="#000" stroke="#000" stroke-width="1.33" stroke-linejoin="miter" stroke-miterlimit="10"/>
<circle cx="1147.80" cy="53.60" r="4.2" fill="#fff" stroke="#000" stroke-width="1.33"/>
<path d="M1097.00,193.26 L1107.71,197.97 L1102.33,193.21 L1107.67,193.17 L1102.33,193.21 L1107.63,188.37 Z" fill="#000" stroke="#000" stroke-width="1.33" stroke-linejoin="miter" stroke-miterlimit="10"/>
<circle cx="1092.80" cy="193.30" r="4.2" fill="#fff" stroke="#000" stroke-width="1.33"/>
<path d="M1096.07,295.64 L1105.21,302.94 L1101.24,296.97 L1106.40,298.29 L1101.24,296.97 L1107.60,293.64 Z" fill="#000" stroke="#000" stroke-width="1.33" stroke-linejoin="miter" stroke-miterlimit="10"/>
<circle cx="1092.00" cy="294.60" r="4.2" fill="#fff" stroke="#000" stroke-width="1.33"/>
<path d="M1121.35,401.91 L1131.21,408.22 L1126.63,402.69 L1131.91,403.47 L1126.63,402.69 L1132.61,398.73 Z" fill="#000" stroke="#000" stroke-width="1.33" stroke-linejoin="miter" stroke-miterlimit="10"/>
<circle cx="1117.20" cy="401.30" r="4.2" fill="#fff" stroke="#000" stroke-width="1.33"/>
<path d="M1121.34,405.61 L1132.66,408.59 L1126.61,404.73 L1131.87,403.86 L1126.61,404.73 L1131.08,399.12 Z" fill="#000" stroke="#000" stroke-width="1.33" stroke-linejoin="miter" stroke-miterlimit="10"/>
<circle cx="1117.20" cy="406.30" r="4.2" fill="#fff" stroke="#000" stroke-width="1.33"/>
<path d="M1079.91,538.76 L1089.37,545.65 L1085.13,539.86 L1090.35,540.95 L1085.13,539.86 L1091.34,536.26 Z" fill="#000" stroke="#000" stroke-width="1.33" stroke-linejoin="miter" stroke-miterlimit="10"/>
<circle cx="1075.80" cy="537.90" r="4.2" fill="#fff" stroke="#000" stroke-width="1.33"/>
<path d="M1079.95,572.38 L1091.21,575.57 L1085.23,571.60 L1090.51,570.82 L1085.23,571.60 L1089.81,566.07 Z" fill="#000" stroke="#000" stroke-width="1.33" stroke-linejoin="miter" stroke-miterlimit="10"/>
<circle cx="1075.80" cy="573.00" r="4.2" fill="#fff" stroke="#000" stroke-width="1.33"/>
<path d="M1452.65,299.44 L1462.46,305.82 L1457.92,300.26 L1463.19,301.08 L1457.92,300.26 L1463.93,296.33 Z" fill="#000" stroke="#000" stroke-width="1.33" stroke-linejoin="miter" stroke-miterlimit="10"/>
<circle cx="1448.50" cy="298.80" r="4.2" fill="#fff" stroke="#000" stroke-width="1.33"/>
<path d="M1452.60,333.00 L1464.05,335.40 L1457.81,331.86 L1463.02,330.71 L1457.81,331.86 L1462.00,326.03 Z" fill="#000" stroke="#000" stroke-width="1.33" stroke-linejoin="miter" stroke-miterlimit="10"/>
<circle cx="1448.50" cy="333.90" r="4.2" fill="#fff" stroke="#000" stroke-width="1.33"/>
</g>
</svg>
</body></html>
